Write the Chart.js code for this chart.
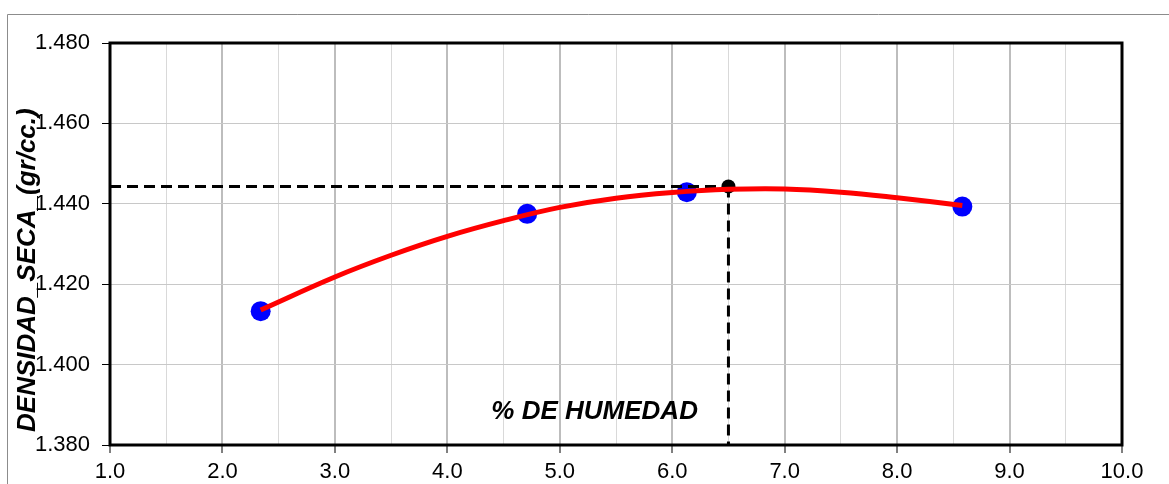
<!DOCTYPE html>
<html>
<head>
<meta charset="utf-8">
<script src="https://cdn.jsdelivr.net/npm/chart.js@4/dist/chart.umd.min.js"></script>
<style>
    html, body { margin: 0; padding: 0; background: #fff; overflow: hidden; }
    #wrap { width: 1169px; height: 484px; position: relative; }
</style>
</head>
<body>
<div id="wrap"><canvas id="proctorChart"></canvas></div>
<script>
// --- datos ---
const humedad = [2.34, 4.71, 6.13, 8.58];
const densidad = [1.4133, 1.4375, 1.4429, 1.4393];

// curva de ajuste
const curvaHumedad = [2.34, 3.0, 3.5, 4.0, 4.5, 5.0, 5.5, 6.0, 6.5, 7.0, 7.5, 8.0, 8.58];
const curvaDensidad = [1.4136, 1.4218, 1.4272, 1.4319, 1.4358, 1.4391, 1.4414, 1.4428, 1.4436, 1.4437, 1.4429, 1.4415, 1.4396];

// optimo
const humedadOptima = [6.5];
const densidadMaxima = [1.4443];

const xTicks = [1.0, 2.0, 3.0, 4.0, 5.0, 6.0, 7.0, 8.0, 9.0, 10.0];
const yTicks = [1.380, 1.400, 1.420, 1.440, 1.460, 1.480];

const tituloX = '% DE HUMEDAD';
const tituloY = 'DENSIDAD_SECA_(gr/cc.)';

const FONT = "'Liberation Sans', Arial, sans-serif";

function pares(xs, ys) {
    return xs.map((x, i) => ({ x: x, y: ys[i] }));
}

const isMajor = v => Math.abs(v - Math.round(v)) < 1e-6;

// marco del area de trazado, borde exterior y titulos
const decoPlugin = {
    id: 'deco',
    beforeDraw(chart) {
        const ctx = chart.ctx;
        ctx.save();
        ctx.strokeStyle = '#8c8c8c';
        ctx.lineWidth = 1;
        ctx.beginPath();
        ctx.moveTo(7.5, chart.height);
        ctx.lineTo(7.5, 14.5);
        ctx.lineTo(chart.width, 14.5);
        ctx.stroke();
        ctx.restore();
    },
    afterDraw(chart) {
        const ctx = chart.ctx;
        const a = chart.chartArea;
        const xs = chart.scales.x;
        const ys = chart.scales.y;
        ctx.save();
        ctx.strokeStyle = '#000';
        ctx.lineWidth = 3;
        ctx.strokeRect(a.left, a.top, a.right - a.left, a.bottom - a.top);

        ctx.fillStyle = '#000';
        ctx.font = 'italic bold 26px ' + FONT;
        ctx.textAlign = 'center';
        ctx.textBaseline = 'middle';
        ctx.fillText(tituloX, xs.getPixelForValue(5.31), ys.getPixelForValue(1.3882));

        ctx.translate(28, ys.getPixelForValue(1.4235));
        ctx.rotate(-Math.PI / 2);
        ctx.font = 'italic bold 26px ' + FONT;
        ctx.fillText(tituloY, 0, 0);
        ctx.restore();
    }
};

const ctxChart = document.getElementById('proctorChart').getContext('2d');
new Chart(ctxChart, {
    type: 'scatter',
    data: {
        datasets: [
            {
                label: 'Curva',
                data: pares(curvaHumedad, curvaDensidad),
                showLine: true,
                borderColor: '#ff0000',
                borderWidth: 5,
                tension: 0.4,
                pointRadius: 0,
                fill: false
            },
            {
                label: 'Optimo',
                data: pares(humedadOptima, densidadMaxima),
                backgroundColor: '#000000',
                borderWidth: 0,
                pointRadius: 7
            },
            {
                label: 'Linea horizontal',
                data: [{ x: xTicks[0], y: densidadMaxima[0] }, { x: humedadOptima[0], y: densidadMaxima[0] }],
                showLine: true,
                borderColor: '#000000',
                borderWidth: 3,
                borderDash: [11, 6],
                pointRadius: 0
            },
            {
                label: 'Linea vertical',
                data: [{ x: humedadOptima[0], y: densidadMaxima[0] }, { x: humedadOptima[0], y: yTicks[0] }],
                showLine: true,
                borderColor: '#000000',
                borderWidth: 3,
                borderDash: [11, 6],
                pointRadius: 0
            },
            {
                label: 'Ensayos',
                data: pares(humedad, densidad),
                backgroundColor: '#0000ff',
                borderWidth: 0,
                pointRadius: 10
            }
        ]
    },
    options: {
        responsive: true,
        maintainAspectRatio: false,
        animation: false,
        layout: { padding: { top: 43, right: 47, left: 0, bottom: 0 } },
        plugins: {
            legend: { display: false },
            tooltip: { enabled: false }
        },
        scales: {
            x: {
                type: 'linear',
                min: xTicks[0],
                max: xTicks[xTicks.length - 1],
                afterFit: s => { s.height = 39; },
                afterBuildTicks: s => {
                    const t = [];
                    for (let v = xTicks[0]; v <= xTicks[xTicks.length - 1] + 1e-9; v += 0.5) t.push({ value: v });
                    s.ticks = t;
                },
                grid: {
                    color: c => isMajor(c.tick.value) ? '#bdbdbd' : '#d9d9d9',
                    lineWidth: c => isMajor(c.tick.value) ? 2 : 1,
                    tickColor: c => isMajor(c.tick.value) ? '#000' : 'rgba(0,0,0,0)',
                    tickWidth: 1,
                    tickLength: 8
                },
                border: { display: false },
                ticks: {
                    color: '#000',
                    padding: 6,
                    maxRotation: 0,
                    autoSkip: false,
                    font: { family: FONT, size: 22 },
                    callback: v => isMajor(v) ? v.toFixed(1) : ''
                }
            },
            y: {
                type: 'linear',
                min: yTicks[0],
                max: yTicks[yTicks.length - 1],
                afterFit: s => { s.width = 110; },
                afterBuildTicks: s => { s.ticks = yTicks.map(v => ({ value: v })); },
                grid: {
                    color: '#c8c8c8',
                    lineWidth: 1,
                    tickColor: '#000',
                    tickLength: 8
                },
                border: { display: false },
                ticks: {
                    color: '#000',
                    padding: 12,
                    font: { family: FONT, size: 22 },
                    callback: v => v.toFixed(3)
                }
            }
        }
    },
    plugins: [decoPlugin]
});
</script>
</body>
</html>
